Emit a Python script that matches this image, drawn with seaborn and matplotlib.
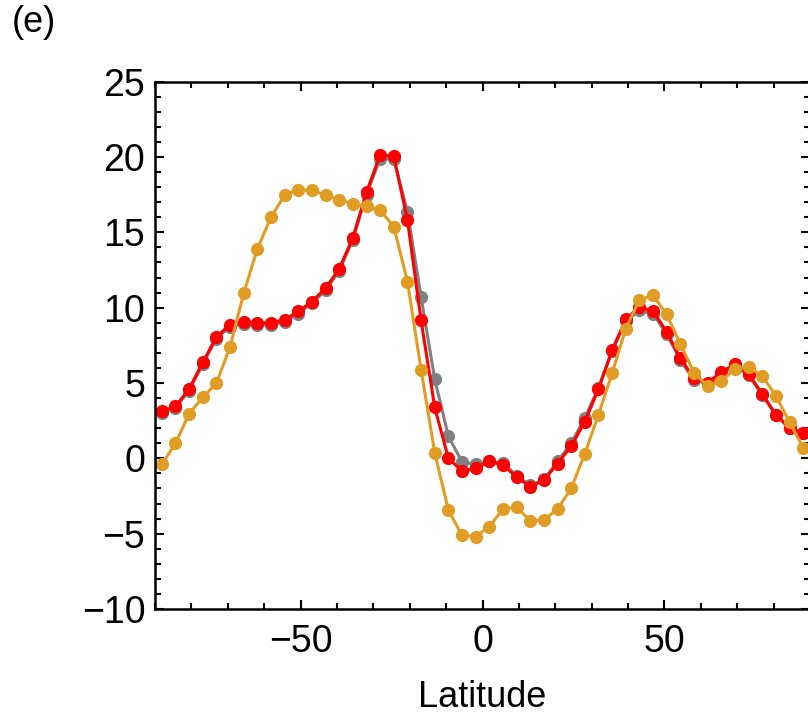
import numpy as np
import pandas as pd
import matplotlib
matplotlib.use("Agg")
import matplotlib.pyplot as plt
import seaborn as sns
from matplotlib.ticker import MultipleLocator

# latitude bin centres (3.75 degree bins)
latitude = [-88.125, -84.375, -80.625, -76.875, -73.125, -69.375, -65.625, -61.875,
            -58.125, -54.375, -50.625, -46.875, -43.125, -39.375, -35.625, -31.875,
            -28.125, -24.375, -20.625, -16.875, -13.125, -9.375, -5.625, -1.875,
            1.875, 5.625, 9.375, 13.125, 16.875, 20.625, 24.375, 28.125,
            31.875, 35.625, 39.375, 43.125, 46.875, 50.625, 54.375, 58.125,
            61.875, 65.625, 69.375, 73.125, 76.875, 80.625, 84.375, 88.125]

gray_vals = [3.0, 3.35, 4.5, 6.25, 7.95, 8.75, 8.9, 8.85, 8.85, 9.05, 9.6, 10.3,
             11.15, 12.45, 14.5, 17.5, 19.9, 19.85, 16.37, 10.7, 5.25, 1.47, -0.24, -0.4,
             -0.2, -0.3, -1.15, -1.8, -1.4, -0.2, 1.0, 2.68, 4.7, 7.1, 9.1, 9.82,
             9.6, 8.25, 6.5, 5.2, 4.95, 5.6, 6.15, 5.5, 4.2, 2.85, 2.0, 1.65]

red_vals = [3.12, 3.45, 4.6, 6.37, 8.06, 8.88, 9.05, 8.99, 9.0, 9.2, 9.75, 10.4,
            11.3, 12.57, 14.65, 17.67, 20.15, 20.04, 15.82, 9.16, 3.38, 0.0, -0.84, -0.66,
            -0.18, -0.46, -1.23, -1.89, -1.45, -0.35, 0.81, 2.44, 4.6, 7.19, 9.23, 10.04,
            9.78, 8.39, 6.64, 5.32, 5.03, 5.71, 6.26, 5.6, 4.28, 2.9, 2.02, 1.69]

orange_vals = [-0.4, 0.99, 2.97, 4.04, 4.99, 7.4, 10.96, 13.9, 16.0, 17.47, 17.84, 17.78,
               17.47, 17.18, 16.9, 16.74, 16.46, 15.38, 11.73, 5.87, 0.37, -3.43, -5.12, -5.19,
               -4.53, -3.36, -3.25, -4.13, -4.09, -3.36, -2.0, 0.32, 2.9, 5.65, 8.61, 10.53,
               10.81, 9.56, 7.58, 5.69, 4.77, 5.16, 5.91, 6.08, 5.47, 4.15, 2.42, 0.7]

series_colors = ["#808080", "#FF0000", "#E19C24"]

sns.set_style("ticks")
plt.rcParams["font.family"] = ["Liberation Sans", "DejaVu Sans"]
plt.rcParams["text.color"] = "black"
plt.rcParams["axes.labelcolor"] = "black"
plt.rcParams["xtick.color"] = "black"
plt.rcParams["ytick.color"] = "black"

fig = plt.figure(figsize=(8.08, 7.21), dpi=100)
# right edge of the frame sits just past the picture edge, as in the original crop
ax = fig.add_axes([155 / 808, 1 - 609 / 721, (810 - 155) / 808, (609 - 81.7) / 721])

for vals, col in zip([gray_vals, red_vals, orange_vals], series_colors):
    df = pd.DataFrame({"lat": latitude, "val": vals})
    sns.lineplot(data=df, x="lat", y="val", ax=ax, color=col, linewidth=2.2,
                 marker="o", markersize=9.5, markeredgewidth=0,
                 markeredgecolor=col)

ax.set_xlim(-90, 90)
ax.set_ylim(-10, 25)
ax.xaxis.set_major_locator(MultipleLocator(50))
ax.xaxis.set_minor_locator(MultipleLocator(10))
ax.yaxis.set_major_locator(MultipleLocator(5))
ax.yaxis.set_minor_locator(MultipleLocator(1))

for s in ax.spines.values():
    s.set_linewidth(1.8)
    s.set_color("black")

ax.tick_params(which="both", direction="in", top=True, right=True,
               labelsize=27, width=1.5, colors="black", pad=7)
ax.tick_params(which="major", length=6.5)
ax.tick_params(which="minor", length=4)
ax.tick_params(axis="x", pad=11)

ax.set_xlabel("Latitude", fontsize=26, labelpad=14, color="black")
ax.set_ylabel("")
fig.text(12 / 808, 1 - 22 / 721, "(e)", fontsize=26, ha="left", va="center",
         color="black")

fig.savefig("out.png", dpi=100)
